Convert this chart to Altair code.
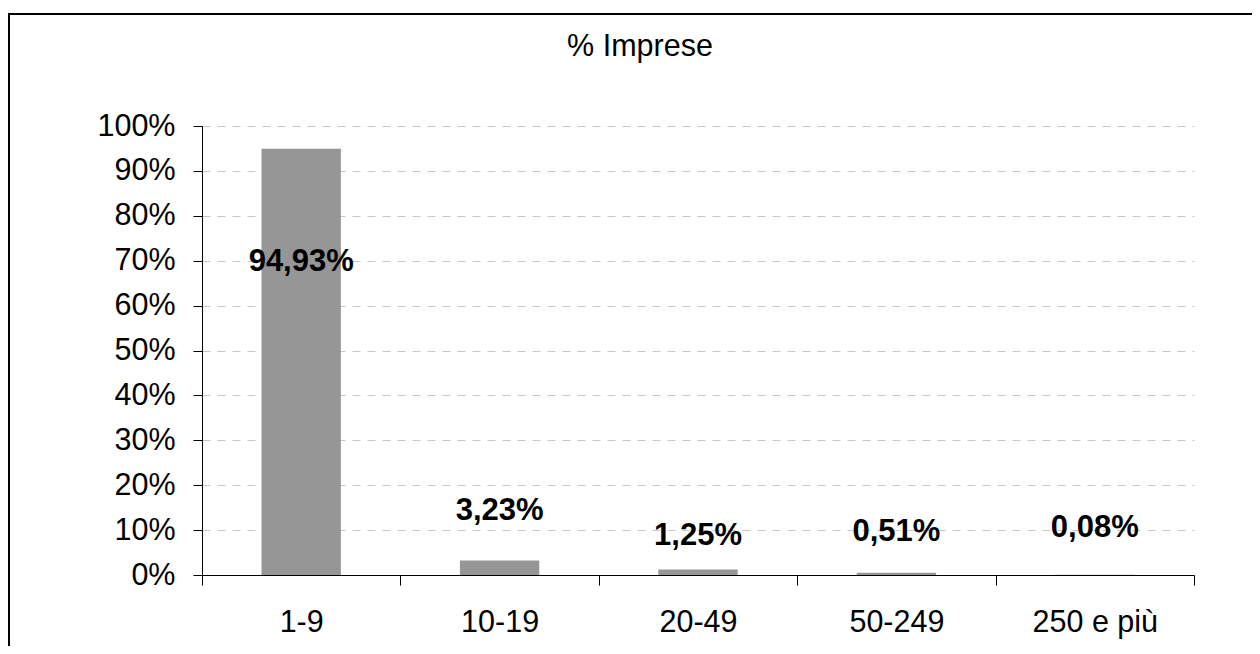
import altair as alt
import pandas as pd

# ---- data ----
categories = ["1-9", "10-19", "20-49", "50-249", "250 e più"]
shares = [94.93, 3.23, 1.25, 0.51, 0.08]
# where each data label was placed (in % units on the y axis, as in the original chart)
label_anchor = [67.8, 12.25, 6.7, 7.6, 8.5]
y_ticks = [0, 10, 20, 30, 40, 50, 60, 70, 80, 90, 100]

labels = [f"{v:.2f}".replace(".", ",") + "%" for v in shares]

df = pd.DataFrame({
    "classe": categories,
    "quota": shares,
    "pos": label_anchor,
    "testo": labels,
})

FONT = "Liberation Sans"
W, H = 992, 449

yscale = alt.Scale(domain=[0, 100], nice=False)
xscale = alt.Scale(paddingInner=0, paddingOuter=0)

x_enc = alt.X(
    "classe:N", sort=categories, title=None, scale=xscale,
    axis=alt.Axis(
        tickBand="extent", labelAngle=0, labelFontSize=30.5, labelFont=FONT,
        labelColor="black", tickSize=10, tickColor="black", domainColor="black",
        labelPadding=22, grid=False, labelBaseline="top",
    ),
)

bars = alt.Chart(df).mark_bar(
    color="#969696", width=alt.RelativeBandSize(0.4)
).encode(
    x=x_enc,
    y=alt.Y(
        "quota:Q", scale=yscale, title=None,
        axis=alt.Axis(
            values=y_ticks, labelExpr="datum.value + '%'", labelFontSize=30.5,
            labelFont=FONT, labelColor="black", tickSize=9, tickColor="black",
            domainColor="black", labelPadding=18, grid=True, gridColor="#c8c8c8",
            gridDash=[8, 7], gridWidth=1,
        ),
    ),
)

text = alt.Chart(df).mark_text(
    font=FONT, fontSize=31, fontWeight="bold", color="black",
    align="center", baseline="alphabetic",
).encode(
    x=alt.X("classe:N", sort=categories),
    y=alt.Y("pos:Q", scale=yscale),
    text="testo:N",
)

frame = alt.Chart(pd.DataFrame({"f": [0]})).mark_rect(
    filled=False, stroke="black", strokeWidth=2
).encode(
    x=alt.value(-193), x2=alt.value(W + 200),
    y=alt.value(-112), y2=alt.value(H + 200),
)

chart = alt.layer(frame, bars, text).properties(
    width=W, height=H,
    padding={"left": 194, "top": 118, "right": 58, "bottom": 71},
    autosize=alt.AutoSizeParams(type="none"),
    title=alt.TitleParams(
        "% Imprese", fontSize=30.5, font=FONT, fontWeight="normal",
        color="black", anchor="middle", frame="group", dx=-58, offset=-73,
        baseline="alphabetic",
    ),
).configure_view(stroke=None)

chart.save("out.html", embed_options={"renderer": "svg", "actions": False})
